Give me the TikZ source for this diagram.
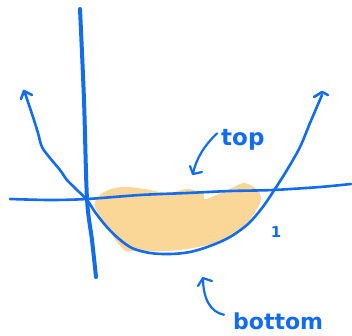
\documentclass[tikz,border=0pt]{standalone}
\usepackage{fontspec}
\setmainfont{DejaVu Sans}
\begin{document}
\begin{tikzpicture}[x=1pt,y=-1pt,
  pen/.style={draw=inkblue,line width=2.6pt,line cap=round,line join=round},
  thinpen/.style={draw=inkblue,line width=2.2pt,line cap=round,line join=round},
  hand/.style={text=inkblue,inner sep=0pt}]
\definecolor{inkblue}{RGB}{18,108,240}
\definecolor{hilite}{RGB}{250,214,151}
\useasboundingbox (0,0) rectangle (352,335);
% shaded region
\fill[hilite] plot[smooth cycle,tension=0.6] coordinates {
 (95,202) (104,192) (122,187) (145,189) (168,193) (188,189) (203,194)
 (206,199) (232,188) (245,183) (258,191) (260,203) (245,225) (225,240)
 (198,247) (168,251) (135,251) (122,248) (98,213)};
% x axis
\draw[pen] plot[smooth,tension=0.5] coordinates {(10,199) (50,200) (87,199) (140,195) (187,193) (230,191) (273,190) (320,187) (351,184)};
% y axis
\draw[draw=inkblue,line width=4pt,line cap=round] plot[smooth,tension=0.5] coordinates {(80,9) (84,100) (87,199) (92,240) (96,277)};
% parabola
\draw[pen] plot[smooth,tension=0.55] coordinates {
 (25,93) (29,105) (33,117) (38,133) (42,147) (50,158) (60,170) (67,180) (75,188) (87,200)
 (95,212) (106,226) (118,238) (132,248) (150,253) (170,254) (190,252)
 (210,246) (230,237) (248,224) (262,208) (273,192) (287,170) (300,147)
 (310,123) (322,95)};
% parabola arrowheads
\draw[pen] (21,99) -- (24,91) -- (32,95);
\draw[pen] (314,97) -- (322,92) -- (328,95);
% tick label
\node[hand,font=\bfseries\fontsize{15}{15}\selectfont] (one) at (276,232) {1};
% labels
\node[hand,font=\bfseries\fontsize{23}{23}\selectfont,anchor=base west] (top) at (221,145) {top};
\node[hand,font=\bfseries\fontsize{22}{22}\selectfont,anchor=base west] (bottom) at (233,329) {bottom};
\coordinate (topend) at (193,174);
\coordinate (bottomend) at (203,278);
% top arrow
\draw[thinpen] (top.west) ++(-4,-6) .. controls (205,145) and (196,158) .. (topend);
\draw[thinpen] (190,166) -- (topend) -- (202,172);
% bottom arrow
\draw[thinpen] (bottom.west) ++(-9,-6) .. controls (210,312) and (203,298) .. (bottomend);
\draw[thinpen] (198,286) -- (bottomend) -- (212,281);
\end{tikzpicture}
\end{document}
